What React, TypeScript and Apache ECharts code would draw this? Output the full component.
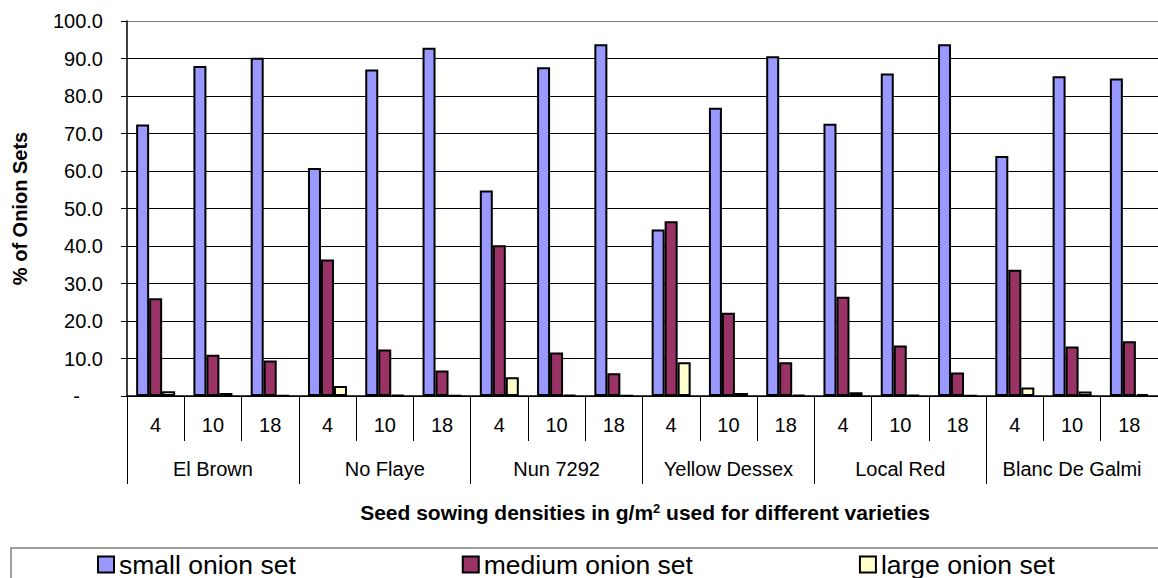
import React, { useEffect, useRef } from "react";
import * as echarts from "echarts";

const varieties = ["El Brown", "No Flaye", "Nun 7292", "Yellow Dessex", "Local Red", "Blanc De Galmi"];
const densities = ["4", "10", "18"];
const seriesNames = ["small onion set", "medium onion set", "large onion set"];
const smallSet = [72.4, 88.0, 90.2, 60.8, 87.1, 92.9, 54.8, 87.7, 93.8, 44.4, 76.9, 90.6, 72.6, 86.0, 93.8, 64.0, 85.3, 84.7];
const mediumSet = [26.1, 11.0, 9.5, 36.4, 12.4, 6.8, 40.2, 11.6, 6.1, 46.6, 22.2, 9.0, 26.5, 13.5, 6.3, 33.7, 13.2, 14.6];
const largeSet = [1.3, 0.8, 0.2, 2.7, 0.3, 0.2, 5.0, 0.3, 0.1, 9.0, 0.8, 0.3, 1.0, 0.3, 0.1, 2.3, 1.2, 0.5];
const yTicks = [0, 10, 20, 30, 40, 50, 60, 70, 80, 90, 100];

const FONT = "'Liberation Sans', Arial, sans-serif";

export default function App() {
  const ref = useRef<HTMLDivElement>(null);
  useEffect(() => {
    if (!ref.current) return;
    const chart = echarts.init(ref.current, undefined, { renderer: "svg" });
    const densityCats: string[] = [];
    varieties.forEach(() => densities.forEach((d) => densityCats.push(d)));
    const colors = ["#9999FF", "#993366", "#FFFFCC"];
    const values = [smallSet, mediumSet, largeSet];
    const splitColors = yTicks.map((t) => (t === 100 ? "#808080" : "#000000"));
    chart.setOption({
      animation: false,
      textStyle: { fontFamily: FONT, color: "#000" },
      grid: { left: 127, right: 0, top: 21, bottom: 182, containLabel: false },
      legend: {
        data: seriesNames,
        left: 97,
        top: 551,
        padding: 0,
        itemGap: 166,
        itemWidth: 16,
        itemHeight: 16,
        icon: "rect",
        textStyle: { fontSize: 26.5, lineHeight: 24, fontFamily: FONT, color: "#000" },
      },
      xAxis: [
        {
          type: "category",
          data: densityCats,
          position: "bottom",
          axisLine: { show: true, lineStyle: { color: "#000", width: 1.5 } },
          axisTick: { show: true, interval: 0, length: 45, lineStyle: { color: "#000", width: 1 } },
          axisLabel: { interval: 0, margin: 19, fontSize: 20, color: "#000", fontFamily: FONT },
        },
        {
          type: "category",
          data: varieties,
          position: "bottom",
          axisLine: { show: false },
          axisTick: { show: true, interval: 0, length: 88, lineStyle: { color: "#000", width: 1 } },
          axisLabel: { interval: 0, margin: 63, fontSize: 20, color: "#000", fontFamily: FONT },
        },
      ],
      yAxis: {
        type: "value",
        min: 0,
        max: 100,
        interval: 10,
        name: "% of Onion Sets",
        nameLocation: "middle",
        nameGap: 97,
        nameTextStyle: { fontSize: 20, fontWeight: "bold", color: "#000", fontFamily: FONT },
        axisLine: { show: true, lineStyle: { color: "#000", width: 1.5 } },
        axisTick: { show: true, length: 6, lineStyle: { color: "#000" } },
        axisLabel: {
          margin: 24,
          fontSize: 20,
          color: "#000",
          fontFamily: FONT,
          formatter: (v: number) => (v === 0 ? "{z|-}" : v.toFixed(1)),
          rich: { z: { fontSize: 20, fontFamily: FONT, color: "#000", padding: [0, 23, 0, 0] } },
        },
        splitLine: { show: true, lineStyle: { color: splitColors, width: 1 } },
      },
      series: seriesNames.map((name, i) => ({
        name,
        type: "bar",
        xAxisIndex: 0,
        data: values[i],
        barWidth: 13,
        barGap: "0%",
        itemStyle: { color: colors[i], borderColor: "#000", borderWidth: 2 },
      })),
      graphic: [
        {
          type: "rect",
          silent: true,
          shape: { x: 11, y: 548, width: 1160, height: 60 },
          style: { fill: "none", stroke: "#808080", lineWidth: 1.5 },
          z: -1,
        },
        {
          type: "text",
          x: 645,
          y: 512,
          silent: true,
          style: {
            text: "{b|Seed sowing densities in g/m}{s|2}{b| used for different varieties}",
            align: "center",
            verticalAlign: "middle",
            textAlign: "center",
            textVerticalAlign: "middle",
            fill: "#000",
            font: "bold 21px " + FONT,
            rich: {
              b: { fontSize: 21, fontWeight: "bold", fontFamily: FONT, fill: "#000" },
              s: { fontSize: 13, fontWeight: "bold", fontFamily: FONT, fill: "#000", verticalAlign: "top" },
            },
          },
        },
      ],
    });
    return () => chart.dispose();
  }, []);
  return (
    <div
      ref={ref}
      style={{ position: "absolute", left: 0, top: 0, width: 1158, height: 578, background: "#fff" }}
    />
  );
}
